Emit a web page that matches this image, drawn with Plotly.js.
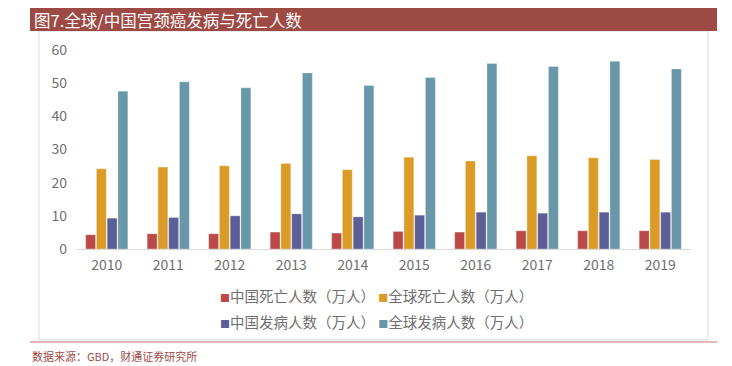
<!DOCTYPE html>
<html>
<head>
<meta charset="utf-8">
<script src="https://cdn.plot.ly/plotly-3.0.1.min.js"></script>
<style>html,body{margin:0;padding:0;background:#fff;}#chart{width:732px;height:366px;}</style>
</head>
<body>
<div id="chart"></div>
<script>
const years = ['2010','2011','2012','2013','2014','2015','2016','2017','2018','2019'];
const chinaDeaths = [4.3, 4.6, 4.6, 5.1, 4.8, 5.3, 5.1, 5.5, 5.5, 5.5];
const globalDeaths = [24.2, 24.7, 25.1, 25.8, 23.9, 27.7, 26.5, 28.1, 27.5, 27.0];
const chinaCases = [9.3, 9.5, 10.0, 10.6, 9.7, 10.2, 11.1, 10.8, 11.1, 11.1];
const globalCases = [47.6, 50.4, 48.6, 53.1, 49.3, 51.7, 55.9, 55.0, 56.6, 54.3];
const seriesNames = ['中国死亡人数（万人）','全球死亡人数（万人）','中国发病人数（万人）','全球发病人数（万人）'];
const colors = ['#B94A48','#DA9C26','#5B5F96','#6797A9'];
const yTicks = [0,10,20,30,40,50,60];

const font = '"Noto Sans CJK SC", "Noto Sans", sans-serif';
const textGray = '#6f6f6f';
const vals = [chinaDeaths, globalDeaths, chinaCases, globalCases];
const traces = vals.map((v,i)=>({
  type:'bar', x: years, y: v, name: seriesNames[i],
  marker:{color: colors[i], line:{color:'rgba(255,255,255,0.6)', width:0.5}},
  hoverinfo:'none'
}));

// plot area pixel geometry
const L=76, R=691, T=50, B=249;
const W=R-L, H=B-T;
const px = x => (x-L)/W;
const py = y => (B-y)/H;

const legendItem = i => '<span style="color:'+colors[i]+';font-size:10px">■</span>' + seriesNames[i];
const legendRow1 = legendItem(0) + ' ' + legendItem(1);
const legendRow2 = legendItem(2) + ' ' + legendItem(3);

const layout = {
  width:732, height:366,
  margin:{l:L, r:732-R, t:T, b:366-B, pad:0},
  paper_bgcolor:'#fff', plot_bgcolor:'#fff',
  font:{family:font, color:textGray, size:14},
  barmode:'group', bargap:0.3, bargroupgap:0.08,
  showlegend:false,
  xaxis:{type:'category', showgrid:false, zeroline:false, showline:true, linecolor:'#d9d9d9', linewidth:1,
         ticks:'', ticklabelstandoff:3, tickfont:{size:14, color:textGray}, fixedrange:true},
  yaxis:{range:[0,60], tickvals:yTicks, showgrid:false, zeroline:false, showline:false, ticks:'',
         ticklabelstandoff:8, tickfont:{size:14, color:textGray}, fixedrange:true},
  shapes:[
    {type:'rect', xref:'paper', yref:'paper', x0:px(39), x1:px(708), y0:py(340), y1:py(31),
     line:{color:'#d9d9d9', width:1}, fillcolor:'rgba(0,0,0,0)', layer:'below'},
    {type:'rect', xref:'paper', yref:'paper', x0:px(30), x1:px(717), y0:py(31), y1:py(8),
     line:{width:0}, fillcolor:'#9E4A44'},
    {type:'line', xref:'paper', yref:'paper', x0:px(30), x1:px(717), y0:py(342), y1:py(342),
     line:{color:'#C9706B', width:1.2}}
  ],
  annotations:[
    {xref:'paper', yref:'paper', x:px(32), y:py(20), xanchor:'left', yanchor:'middle', showarrow:false,
     text:'图7.全球/中国宫颈癌发病与死亡人数', font:{family:font, size:16.5, color:'#ffffff'}},
    {xref:'paper', yref:'paper', x:px(30), y:py(356), xanchor:'left', yanchor:'middle', showarrow:false,
     text:'数据来源：GBD，财通证券研究所', font:{family:font, size:11, color:'#9E4A44'}},
    {xref:'paper', yref:'paper', x:px(218), y:py(295), xanchor:'left', yanchor:'middle', showarrow:false,
     text:legendRow1, font:{family:font, size:14.5, color:textGray}},
    {xref:'paper', yref:'paper', x:px(218), y:py(321), xanchor:'left', yanchor:'middle', showarrow:false,
     text:legendRow2, font:{family:font, size:14.5, color:textGray}}
  ]
};

Plotly.newPlot('chart', traces, layout, {staticPlot:true, displayModeBar:false});
</script>
</body>
</html>
